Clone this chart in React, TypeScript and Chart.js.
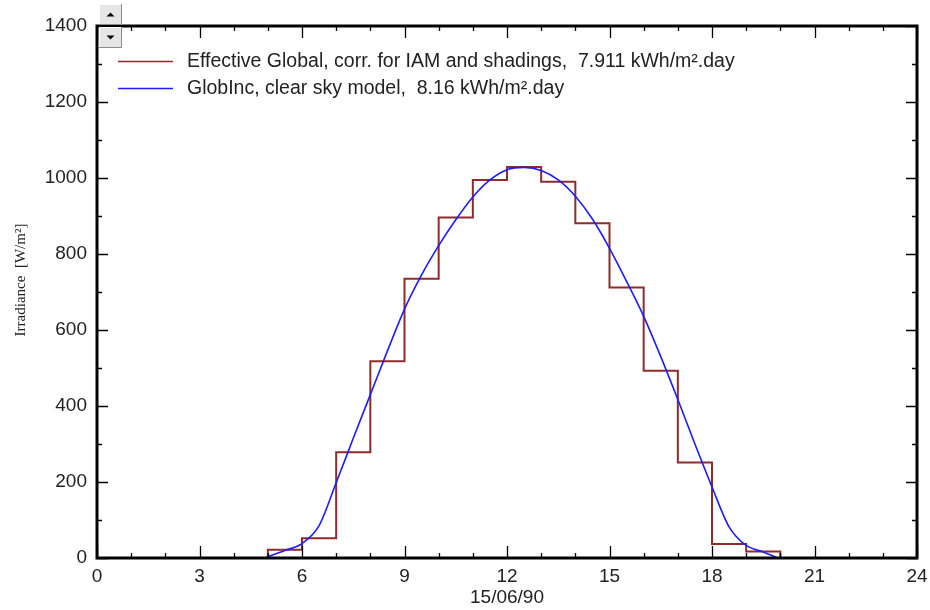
import React, { useEffect, useRef } from 'react';
import { Chart, registerables } from 'chart.js';
Chart.register(...registerables);

// ---- data ----
const hourEnds = [1, 2, 3, 4, 5, 6, 7, 8, 9, 10, 11, 12, 13, 14, 15, 16, 17, 18, 19, 20, 21, 22, 23, 24];
const effectiveGlobal = [0, 0, 0, 0, 0, 22, 52, 278, 518, 735, 896, 995, 1029, 990, 881, 712, 493, 251, 37, 17, 0, 0, 0, 0];
const clearSkyHours = [4.92, 5.0, 5.5, 6.0, 6.5, 7.0, 7.5, 8.0, 8.5, 9.0, 9.5, 10.0, 10.5, 11.0, 11.5, 12.0, 12.5, 13.0, 13.5, 14.0, 14.5, 15.0, 15.5, 16.0, 16.5, 17.0, 17.5, 18.0, 18.5, 19.0, 19.5, 19.93];
const clearSkyValues = [0, 3, 20, 38, 85, 198, 315, 430, 545, 655, 745, 822, 890, 950, 995, 1022, 1028, 1020, 995, 952, 892, 815, 728, 636, 530, 417, 300, 187, 82, 33, 16, 0];
const xMajorTicks = [0, 3, 6, 9, 12, 15, 18, 21, 24];
const yMajorTicks = [0, 200, 400, 600, 800, 1000, 1200, 1400];
const legendLabels = [
  'Effective Global, corr. for IAM and shadings,  7.911 kWh/m².day',
  'GlobInc, clear sky model,  8.16 kWh/m².day',
];
const xTitle = '15/06/90';
const yTitle = 'Irradiance  [W/m²]';

const RED = '#8e2b2b';
const BLUE = '#1c1cff';
const TEXT = '#222222';
const SANS = '"Liberation Sans", Arial, sans-serif';

const decorPlugin = {
  id: 'decor',
  afterDraw(chart: any) {
    const ctx = chart.ctx as CanvasRenderingContext2D;
    const { left, right, top, bottom } = chart.chartArea;
    const xs = chart.scales.x;
    const ys = chart.scales.y;
    ctx.save();
    // ticks on all four sides
    ctx.strokeStyle = '#000';
    ctx.lineWidth = 1.3;
    ctx.beginPath();
    for (let h = 0; h <= 24; h++) {
      const px = Math.round(xs.getPixelForValue(h)) + 0.5;
      const len = h % 3 === 0 ? 12 : 5;
      ctx.moveTo(px, bottom);
      ctx.lineTo(px, bottom - len);
      ctx.moveTo(px, top);
      ctx.lineTo(px, top + len);
    }
    for (let v = 0; v <= 1400; v += 100) {
      const py = Math.round(ys.getPixelForValue(v)) + 0.5;
      const len = v % 200 === 0 ? 11 : 5;
      ctx.moveTo(left, py);
      ctx.lineTo(left + len, py);
      ctx.moveTo(right, py);
      ctx.lineTo(right - len, py);
    }
    ctx.stroke();
    // frame
    ctx.lineWidth = 3;
    ctx.strokeRect(left, top, right - left, bottom - top);

    // legend
    const legendColors = [RED, BLUE];
    legendLabels.forEach((lab, i) => {
      const y = 61 + i * 27;
      ctx.strokeStyle = legendColors[i];
      ctx.lineWidth = 1.5;
      ctx.beginPath();
      ctx.moveTo(118, y + 0.5);
      ctx.lineTo(173, y + 0.5);
      ctx.stroke();
      ctx.fillStyle = TEXT;
      ctx.font = `19.5px ${SANS}`;
      ctx.textAlign = 'left';
      ctx.textBaseline = 'middle';
      ctx.fillText(lab, 187, y + 1);
    });

    // x title
    ctx.fillStyle = TEXT;
    ctx.font = `19px ${SANS}`;
    ctx.textAlign = 'center';
    ctx.textBaseline = 'middle';
    ctx.fillText(xTitle, xs.getPixelForValue(12), 598);

    // y title
    ctx.save();
    ctx.translate(25, 280);
    ctx.rotate(-Math.PI / 2);
    ctx.font = `15px "Liberation Serif", "Times New Roman", serif`;
    ctx.textAlign = 'center';
    ctx.textBaseline = 'alphabetic';
    ctx.fillStyle = TEXT;
    ctx.fillText(yTitle, 0, 0);
    ctx.restore();

    // scroll buttons
    const drawBtn = (y0: number, up: boolean) => {
      const x0 = 99, w = 23, hgt = 21;
      ctx.fillStyle = '#e6e6e6';
      ctx.fillRect(x0, y0, w, hgt);
      ctx.strokeStyle = '#ffffff';
      ctx.lineWidth = 1;
      ctx.beginPath();
      ctx.moveTo(x0 + 0.5, y0 + hgt);
      ctx.lineTo(x0 + 0.5, y0 + 0.5);
      ctx.lineTo(x0 + w, y0 + 0.5);
      ctx.stroke();
      ctx.strokeStyle = '#8a8a8a';
      ctx.beginPath();
      ctx.moveTo(x0 + w - 0.5, y0);
      ctx.lineTo(x0 + w - 0.5, y0 + hgt - 0.5);
      ctx.lineTo(x0, y0 + hgt - 0.5);
      ctx.stroke();
      const cx = x0 + w / 2, cy = y0 + hgt / 2;
      ctx.fillStyle = '#000';
      ctx.beginPath();
      if (up) {
        ctx.moveTo(cx - 4, cy + 2);
        ctx.lineTo(cx + 4, cy + 2);
        ctx.lineTo(cx, cy - 2);
      } else {
        ctx.moveTo(cx - 4, cy - 2);
        ctx.lineTo(cx + 4, cy - 2);
        ctx.lineTo(cx, cy + 2);
      }
      ctx.closePath();
      ctx.fill();
    };
    drawBtn(4, true);
    drawBtn(27, false);
    ctx.restore();
  },
};

export default function App() {
  const ref = useRef<HTMLCanvasElement | null>(null);
  useEffect(() => {
    if (!ref.current) return;
    const stepData = [{ x: 0, y: 0 }].concat(hourEnds.map((h, i) => ({ x: h, y: effectiveGlobal[i] })));
    const skyData = clearSkyHours.map((h, i) => ({ x: h, y: clearSkyValues[i] }));
    const chart = new Chart(ref.current, {
      type: 'line',
      data: {
        datasets: [
          {
            label: legendLabels[1],
            data: skyData,
            borderColor: BLUE,
            borderWidth: 1.6,
            pointRadius: 0,
            cubicInterpolationMode: 'monotone',
            fill: false,
            order: 0,
          },
          {
            label: legendLabels[0],
            data: stepData,
            borderColor: RED,
            borderWidth: 2,
            pointRadius: 0,
            stepped: 'after',
            fill: false,
            order: 1,
          },
        ],
      },
      options: {
        responsive: false,
        animation: false,
        layout: { padding: { top: 26, right: 13, left: 0, bottom: 0 } },
        plugins: { legend: { display: false }, tooltip: { enabled: false } },
        scales: {
          x: {
            type: 'linear',
            min: 0,
            max: 24,
            afterBuildTicks: (s: any) => {
              s.ticks = xMajorTicks.map((v) => ({ value: v }));
            },
            ticks: {
              color: TEXT,
              font: { family: SANS, size: 19 },
              padding: 7,
              maxRotation: 0,
              autoSkip: false,
              callback: (v: any) => String(v),
            },
            grid: { display: false, drawTicks: false },
            border: { display: false },
            afterFit: (s: any) => {
              s.height = 52;
              s.paddingLeft = 0;
              s.paddingRight = 0;
            },
          },
          y: {
            type: 'linear',
            min: 0,
            max: 1400,
            afterBuildTicks: (s: any) => {
              s.ticks = yMajorTicks.map((v) => ({ value: v }));
            },
            ticks: {
              color: TEXT,
              font: { family: SANS, size: 19 },
              padding: 10,
              autoSkip: false,
              callback: (v: any) => String(v),
            },
            grid: { display: false, drawTicks: false },
            border: { display: false },
            afterFit: (s: any) => {
              s.width = 97;
              s.paddingTop = 0;
              s.paddingBottom = 0;
            },
          },
        },
      },
      plugins: [decorPlugin],
    });
    return () => chart.destroy();
  }, []);
  return (
    <div style={{ position: 'fixed', left: 0, top: 0, width: 930, height: 610, background: '#fff' }}>
      <canvas ref={ref} width={930} height={610} style={{ width: 930, height: 610, display: 'block' }} />
    </div>
  );
}
